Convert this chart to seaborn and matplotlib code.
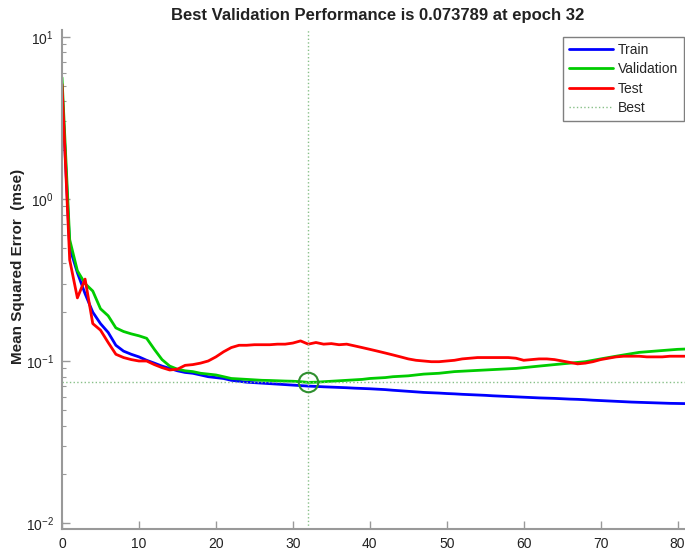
import pandas as pd
import matplotlib
matplotlib.use('Agg')
import matplotlib.pyplot as plt
from matplotlib.lines import Line2D
import seaborn as sns

# --- Data (epochs 0..81) ---
epochs = list(range(0, 82))

train_mse = [4.8, 0.50, 0.35, 0.26, 0.20, 0.17, 0.15, 0.125, 0.115, 0.110,
             0.106, 0.101, 0.097, 0.093, 0.090, 0.087, 0.085, 0.084, 0.082, 0.080,
             0.079, 0.078, 0.076, 0.075, 0.074, 0.0735, 0.073, 0.0725, 0.072, 0.0715,
             0.071, 0.0705, 0.070, 0.0697, 0.0693, 0.069, 0.0687, 0.0684, 0.068, 0.0677,
             0.0674, 0.067, 0.0666, 0.066, 0.0655, 0.065, 0.0645, 0.064, 0.0637, 0.0634,
             0.063, 0.0627, 0.0623, 0.062, 0.0617, 0.0614, 0.061, 0.0607, 0.0604, 0.0601,
             0.0598, 0.0595, 0.0592, 0.059, 0.0588, 0.0585, 0.0582, 0.058, 0.0577, 0.0573,
             0.057, 0.0567, 0.0564, 0.0561, 0.0558, 0.0556, 0.0554, 0.0552, 0.055, 0.0548,
             0.0547, 0.0546]

val_mse = [5.6, 0.56, 0.36, 0.30, 0.27, 0.21, 0.19, 0.16, 0.152, 0.147,
           0.143, 0.138, 0.118, 0.102, 0.093, 0.089, 0.087, 0.086, 0.084, 0.083,
           0.082, 0.080, 0.078, 0.0775, 0.077, 0.0765, 0.076, 0.0758, 0.0755, 0.0752,
           0.075, 0.0745, 0.073789, 0.074, 0.0745, 0.075, 0.0755, 0.076, 0.0765, 0.077,
           0.078, 0.0785, 0.079, 0.080, 0.0805, 0.081, 0.082, 0.083, 0.0835, 0.084,
           0.085, 0.086, 0.0865, 0.087, 0.0875, 0.088, 0.0885, 0.089, 0.0895, 0.090,
           0.091, 0.092, 0.093, 0.094, 0.095, 0.096, 0.097, 0.098, 0.099, 0.101,
           0.103, 0.105, 0.107, 0.109, 0.111, 0.113, 0.114, 0.115, 0.116, 0.117,
           0.118, 0.1185]

test_mse = [5.1, 0.42, 0.245, 0.32, 0.17, 0.155, 0.13, 0.11, 0.105, 0.102,
            0.100, 0.100, 0.095, 0.091, 0.088, 0.089, 0.094, 0.095, 0.097, 0.100,
            0.106, 0.114, 0.121, 0.125, 0.125, 0.126, 0.126, 0.126, 0.127, 0.127,
            0.129, 0.133, 0.127, 0.130, 0.127, 0.128, 0.126, 0.127, 0.124, 0.121,
            0.118, 0.115, 0.112, 0.109, 0.106, 0.103, 0.101, 0.100, 0.099, 0.099,
            0.100, 0.101, 0.103, 0.104, 0.105, 0.105, 0.105, 0.105, 0.105, 0.104,
            0.101, 0.102, 0.103, 0.103, 0.102, 0.100, 0.098, 0.096, 0.097, 0.099,
            0.102, 0.104, 0.106, 0.107, 0.107, 0.107, 0.106, 0.106, 0.106, 0.107,
            0.107, 0.107]

best_epoch = 32
best_perf = 0.073789

set_names = ['Train', 'Validation', 'Test']
set_colors = {'Train': '#0000ff', 'Validation': '#00cc00', 'Test': '#ff0000'}
best_color = '#88c088'

df = pd.DataFrame({
    'Epoch': epochs * 3,
    'MSE': train_mse + val_mse + test_mse,
    'Set': [s for s in set_names for _ in epochs],
})

# --- Style ---
sns.set_style('ticks')
plt.rcParams['font.family'] = ['Liberation Sans', 'DejaVu Sans']
plt.rcParams['mathtext.fontset'] = 'custom'
plt.rcParams['mathtext.rm'] = 'Liberation Sans'

fig = plt.figure(figsize=(6.85, 5.52), dpi=100)
ax = fig.add_axes([62 / 685, 23 / 552, 631 / 685, 499 / 552])

sns.lineplot(data=df, x='Epoch', y='MSE', hue='Set', hue_order=set_names,
             palette=set_colors, linewidth=2, errorbar=None, legend=False, ax=ax)
ax.set_yscale('log')

# best validation markers
ax.axvline(best_epoch, color=best_color, ls=':', lw=1)
ax.axhline(best_perf, color=best_color, ls=':', lw=1)
ax.plot([best_epoch], [best_perf], 'o', mfc='none', mec='#2f8f2f', ms=14, mew=1.5)

ax.set_xlim(0, 82)
ax.set_ylim(0.0092, 11.0)
ax.set_xticks(range(0, 81, 10))

ax.set_title('Best Validation Performance is 0.073789 at epoch 32',
             fontsize=12, fontweight='bold', pad=7, color='#222222')
ax.set_ylabel('Mean Squared Error  (mse)', fontsize=11, fontweight='bold', color='#222222')
ax.yaxis.set_label_coords(-0.0586, 0.527)
ax.set_xlabel('')

for side in ['top', 'right']:
    ax.spines[side].set_visible(False)
for side in ['left', 'bottom']:
    ax.spines[side].set_color('#999999')
    ax.spines[side].set_linewidth(1.5)

ax.tick_params(which='major', direction='in', length=6, width=1,
               color='#999999', labelcolor='#222222', labelsize=10, pad=6)
ax.tick_params(which='minor', direction='in', length=3, width=0.8, color='#999999')
ax.tick_params(axis='x', which='minor', bottom=False)

legend_elements = [
    Line2D([0], [0], color=set_colors['Train'], lw=2, label='Train'),
    Line2D([0], [0], color=set_colors['Validation'], lw=2, label='Validation'),
    Line2D([0], [0], color=set_colors['Test'], lw=2, label='Test'),
    Line2D([0], [0], color=best_color, lw=1, ls=':', label='Best'),
]
leg = fig.legend(handles=legend_elements, loc='upper left',
                 bbox_to_anchor=(563 / 685, 1 - 37 / 552), borderaxespad=0,
                 fontsize=10, handlelength=3.2, handletextpad=0.35,
                 labelspacing=0.4, borderpad=0.4, fancybox=False, framealpha=1)
leg.get_frame().set_edgecolor('#7f7f7f')
leg.get_frame().set_linewidth(1)

plt.savefig('out.png', dpi=100)
plt.close(fig)
